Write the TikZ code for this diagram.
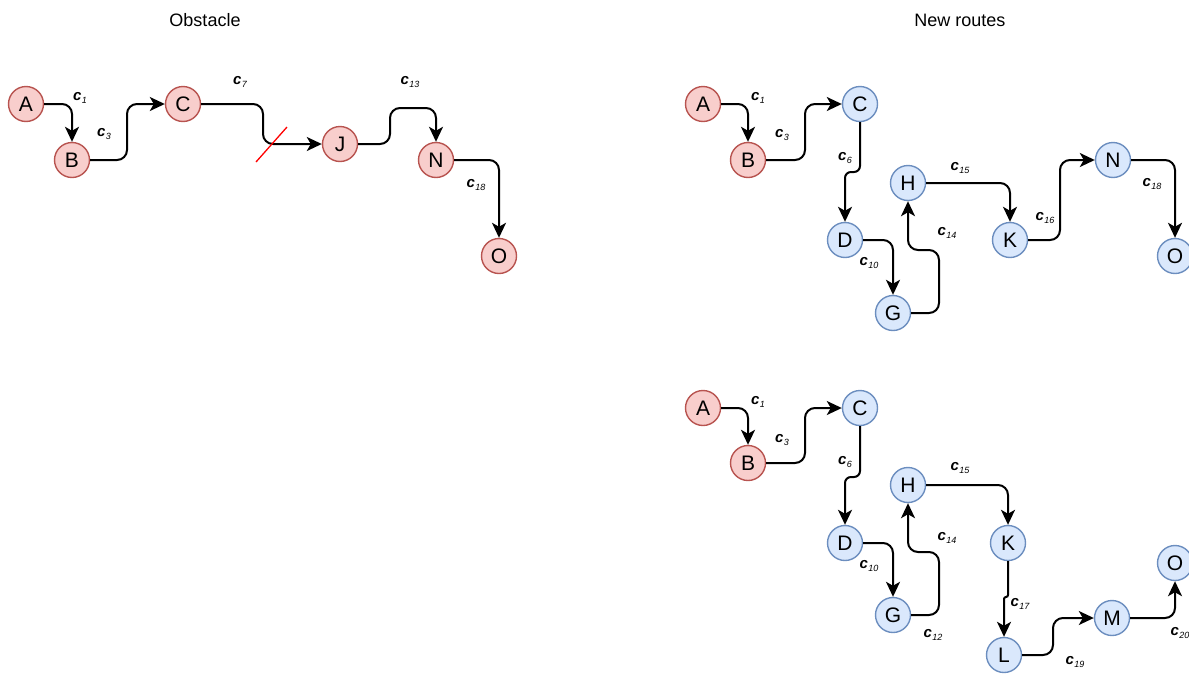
\documentclass[tikz,border=0pt]{standalone}
\usepackage{fontspec}
\setmainfont{Liberation Sans}
\usetikzlibrary{arrows.meta}
\definecolor{rfill}{HTML}{F8CECC}
\definecolor{rdraw}{HTML}{B85450}
\definecolor{bfill}{HTML}{DAE8FC}
\definecolor{bdraw}{HTML}{6C8EBF}
\newcommand{\clab}[1]{{\fontsize{15}{15}\selectfont\bfseries\itshape c\kern0.5pt\raisebox{-0.4ex}{\fontsize{9}{9}\selectfont\mdseries #1}}}
\begin{document}
\begin{tikzpicture}[x=1pt,y=-1pt,
 rnode/.style={circle,draw=rdraw,fill=rfill,line width=1.4pt,minimum size=35pt,inner sep=0pt,font=\fontsize{21}{21}\selectfont},
 bnode/.style={rnode,draw=bdraw,fill=bfill},
 conn/.style={line width=2pt,rounded corners=10pt,-{Stealth[length=15pt,width=14pt,inset=4pt]}},
 jog/.style={conn,rounded corners=6pt},
 tinyjog/.style={conn,rounded corners=2pt},
 lab/.style={inner sep=0pt},
 title/.style={font=\fontsize{18}{18}\selectfont}]
\useasboundingbox (0,0) rectangle (1189,675);
% titles
\node[title] (t1) at (205,20) {Obstacle};
\node[title] (t2) at (960,20) {New routes};
% ---------------- left panel
\node[rnode] (A) at (26,104) {A};
\node[rnode] (B) at (72,160) {B};
\node[rnode] (C) at (183,104) {C};
\node[rnode] (J) at (340,144) {J};
\node[rnode] (N) at (436,160) {N};
\node[rnode] (O) at (499,256) {O};
\coordinate (bc) at (127,0);
\coordinate (cj) at (263,0);
\coordinate (jn) at (390,108);
\draw[conn] (A) -| (B);
\draw[conn] (B.east) -- (bc |- B) -- (bc |- C) -- (C.west);
\draw[conn] (C.east) -- (cj |- C) -- (cj |- J) -- (J.west);
\draw[conn] (J.east) -- (jn |- J) -- (jn) -- (N |- jn) -- (N.north);
\draw[conn] (N) -| (O);
\draw[red, line width=1.3pt] (256,162) -- (287,127);
\node[lab] (l1) at (80,98) {\clab{1}};
\node[lab] (l3) at (104,134) {\clab{3}};
\node[lab] (l7) at (240,82) {\clab{7}};
\node[lab] (l13) at (410,82) {\clab{13}};
\node[lab] (l18) at (476,185) {\clab{18}};
% ---------------- top right panel
\node[rnode] (A2) at (703,104) {A};
\node[rnode] (B2) at (748,160) {B};
\node[bnode] (C2) at (860,104) {C};
\node[bnode] (D2) at (845,240) {D};
\node[bnode] (G2) at (893,313) {G};
\node[bnode] (H2) at (908,183) {H};
\node[bnode] (K2) at (1010,240) {K};
\node[bnode] (N2) at (1113,160) {N};
\node[bnode] (O2) at (1175,256) {O};
\coordinate (bc2) at (805,0);
\coordinate (cd2) at (0,172);
\coordinate (gh2) at (939,250);
\coordinate (kn2) at (1060,0);
\draw[conn] (A2) -| (B2);
\draw[conn] (B2.east) -- (bc2 |- B2) -- (bc2 |- C2) -- (C2.west);
\draw[jog] (C2.south) -- (C2 |- cd2) -- (D2 |- cd2) -- (D2.north);
\draw[conn] (D2) -| (G2);
\draw[conn] (G2.east) -- (gh2 |- G2) -- (gh2) -- (H2 |- gh2) -- (H2.south);
\draw[conn] (H2) -| (K2);
\draw[conn] (K2.east) -- (kn2 |- K2) -- (kn2 |- N2) -- (N2.west);
\draw[conn] (N2) -| (O2);
\node[lab] (m1) at (758,98) {\clab{1}};
\node[lab] (m3) at (782,135) {\clab{3}};
\node[lab] (m6) at (845,158) {\clab{6}};
\node[lab] (m15) at (960,168) {\clab{15}};
\node[lab] (m16) at (1045,218) {\clab{16}};
\node[lab] (m18) at (1152,184) {\clab{18}};
\node[lab] (m14) at (947,233) {\clab{14}};
\node[lab] (m10) at (869,263) {\clab{10}};
% ---------------- bottom right panel
\node[rnode] (A3) at (703,408) {A};
\node[rnode] (B3) at (748,463) {B};
\node[bnode] (C3) at (860,408) {C};
\node[bnode] (D3) at (845,543) {D};
\node[bnode] (G3) at (893,615) {G};
\node[bnode] (H3) at (908,485) {H};
\node[bnode] (K3) at (1008,543) {K};
\node[bnode] (L3) at (1004,655) {L};
\node[bnode] (M3) at (1112,618) {M};
\node[bnode] (O3) at (1175,563) {O};
\coordinate (bc3) at (805,0);
\coordinate (cd3) at (0,477);
\coordinate (gh3) at (939,552);
\coordinate (kl3) at (0,597);
\coordinate (lm3) at (1053,0);
\draw[conn] (A3) -| (B3);
\draw[conn] (B3.east) -- (bc3 |- B3) -- (bc3 |- C3) -- (C3.west);
\draw[jog] (C3.south) -- (C3 |- cd3) -- (D3 |- cd3) -- (D3.north);
\draw[conn] (D3) -| (G3);
\draw[conn] (G3.east) -- (gh3 |- G3) -- (gh3) -- (H3 |- gh3) -- (H3.south);
\draw[conn] (H3) -| (K3);
\draw[tinyjog] (K3.south) -- (K3 |- kl3) -- (L3 |- kl3) -- (L3.north);
\draw[conn] (L3.east) -- (lm3 |- L3) -- (lm3 |- M3) -- (M3.west);
\draw[conn] (M3) -| (O3);
\node[lab] (n1) at (758,402) {\clab{1}};
\node[lab] (n3) at (782,440) {\clab{3}};
\node[lab] (n6) at (845,462) {\clab{6}};
\node[lab] (n15) at (960,468) {\clab{15}};
\node[lab] (n14) at (947,538) {\clab{14}};
\node[lab] (n10) at (869,566) {\clab{10}};
\node[lab] (n12) at (933,635) {\clab{12}};
\node[lab] (n17) at (1020,604) {\clab{17}};
\node[lab] (n19) at (1075,662) {\clab{19}};
\node[lab] (n20) at (1180,633) {\clab{20}};
\end{tikzpicture}
\end{document}
